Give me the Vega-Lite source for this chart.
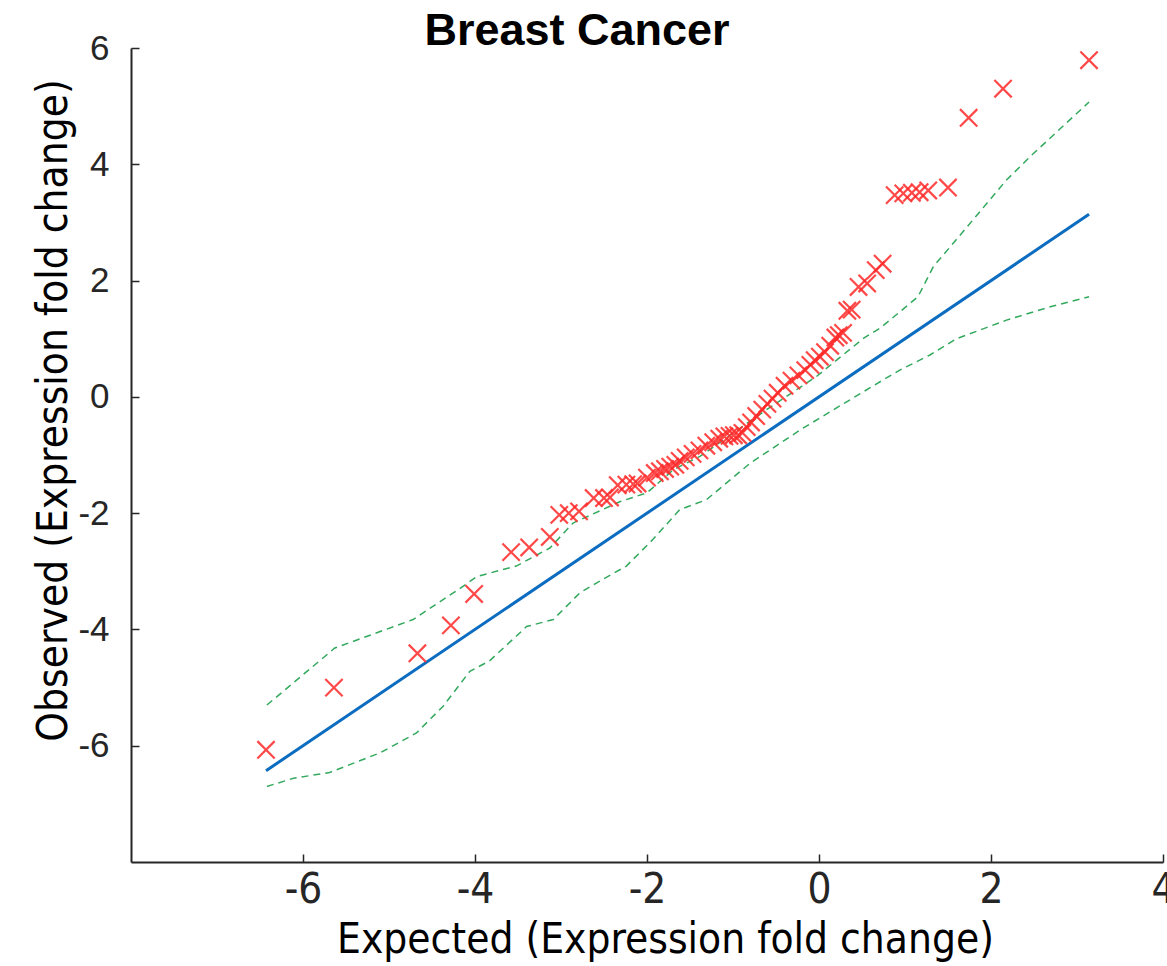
{
  "$schema": "https://vega.github.io/schema/vega-lite/v6.json",
  "width": 1032,
  "height": 814,
  "autosize": {"type": "none"},
  "padding": {"left": 131, "top": 48, "right": 4, "bottom": 104},
  "background": "white",
  "config": {"view": {"stroke": null}},
  "title": {"text": "Breast Cancer", "font": "Liberation Sans", "fontSize": 45, "fontWeight": "bold", "color": "#000000", "anchor": "middle", "dx": -70, "offset": 8, "dy": 31},
  "datasets": {
    "obs": [
      {"expected": -6.43, "observed": -6.07}, {"expected": -5.64, "observed": -5.0}, {"expected": -4.67, "observed": -4.41},
      {"expected": -4.28, "observed": -3.93}, {"expected": -4.01, "observed": -3.39}, {"expected": -3.58, "observed": -2.67},
      {"expected": -3.37, "observed": -2.59}, {"expected": -3.13, "observed": -2.41}, {"expected": -3.02, "observed": -2.03},
      {"expected": -2.91, "observed": -2.0}, {"expected": -2.79, "observed": -1.97}, {"expected": -2.62, "observed": -1.74},
      {"expected": -2.5, "observed": -1.74}, {"expected": -2.43, "observed": -1.73}, {"expected": -2.34, "observed": -1.52},
      {"expected": -2.24, "observed": -1.51}, {"expected": -2.16, "observed": -1.5}, {"expected": -2.11, "observed": -1.49},
      {"expected": -2.0, "observed": -1.39}, {"expected": -1.91, "observed": -1.31}, {"expected": -1.85, "observed": -1.28},
      {"expected": -1.79, "observed": -1.24}, {"expected": -1.73, "observed": -1.2}, {"expected": -1.67, "observed": -1.17},
      {"expected": -1.62, "observed": -1.1}, {"expected": -1.55, "observed": -1.04}, {"expected": -1.47, "observed": -0.98},
      {"expected": -1.39, "observed": -0.92}, {"expected": -1.31, "observed": -0.84}, {"expected": -1.23, "observed": -0.78},
      {"expected": -1.16, "observed": -0.72}, {"expected": -1.1, "observed": -0.68}, {"expected": -1.04, "observed": -0.67},
      {"expected": -0.99, "observed": -0.66}, {"expected": -0.94, "observed": -0.66}, {"expected": -0.89, "observed": -0.62},
      {"expected": -0.84, "observed": -0.52}, {"expected": -0.79, "observed": -0.44}, {"expected": -0.73, "observed": -0.33},
      {"expected": -0.66, "observed": -0.22}, {"expected": -0.6, "observed": -0.12}, {"expected": -0.54, "observed": -0.03},
      {"expected": -0.48, "observed": 0.07}, {"expected": -0.4, "observed": 0.19}, {"expected": -0.32, "observed": 0.28},
      {"expected": -0.24, "observed": 0.37}, {"expected": -0.16, "observed": 0.46}, {"expected": -0.1, "observed": 0.55},
      {"expected": -0.05, "observed": 0.63}, {"expected": 0.01, "observed": 0.69}, {"expected": 0.07, "observed": 0.77},
      {"expected": 0.13, "observed": 0.88}, {"expected": 0.19, "observed": 1.02}, {"expected": 0.23, "observed": 1.06},
      {"expected": 0.28, "observed": 1.1}, {"expected": 0.33, "observed": 1.48}, {"expected": 0.38, "observed": 1.5},
      {"expected": 0.46, "observed": 1.89}, {"expected": 0.56, "observed": 1.95}, {"expected": 0.66, "observed": 2.18},
      {"expected": 0.74, "observed": 2.29}, {"expected": 0.88, "observed": 3.47}, {"expected": 0.98, "observed": 3.5},
      {"expected": 1.08, "observed": 3.51}, {"expected": 1.17, "observed": 3.52}, {"expected": 1.27, "observed": 3.55},
      {"expected": 1.5, "observed": 3.6}, {"expected": 1.74, "observed": 4.8}, {"expected": 2.14, "observed": 5.3},
      {"expected": 3.14, "observed": 5.79}
    ],
    "ref": [
      {"expected": -6.43, "observed": -6.43}, {"expected": 3.14, "observed": 3.14}
    ],
    "bounds": [
      {"band": "upper", "expected": -6.42, "observed": -5.3}, {"band": "upper", "expected": -5.63, "observed": -4.32},
      {"band": "upper", "expected": -4.72, "observed": -3.83}, {"band": "upper", "expected": -4.14, "observed": -3.26},
      {"band": "upper", "expected": -3.98, "observed": -3.09}, {"band": "upper", "expected": -3.52, "observed": -2.91},
      {"band": "upper", "expected": -3.13, "observed": -2.6}, {"band": "upper", "expected": -2.86, "observed": -2.17},
      {"band": "upper", "expected": -2.31, "observed": -1.8}, {"band": "upper", "expected": -2.0, "observed": -1.65},
      {"band": "upper", "expected": -1.69, "observed": -1.25}, {"band": "upper", "expected": -1.38, "observed": -1.02},
      {"band": "upper", "expected": -0.61, "observed": -0.22}, {"band": "upper", "expected": -0.03, "observed": 0.35},
      {"band": "upper", "expected": 0.52, "observed": 1.01}, {"band": "upper", "expected": 0.71, "observed": 1.18},
      {"band": "upper", "expected": 1.15, "observed": 1.72}, {"band": "upper", "expected": 1.33, "observed": 2.24},
      {"band": "upper", "expected": 1.72, "observed": 2.92}, {"band": "upper", "expected": 2.18, "observed": 3.73},
      {"band": "upper", "expected": 2.49, "observed": 4.18}, {"band": "upper", "expected": 3.14, "observed": 5.07},
      {"band": "lower", "expected": -6.42, "observed": -6.7}, {"band": "lower", "expected": -6.11, "observed": -6.56},
      {"band": "lower", "expected": -5.69, "observed": -6.46}, {"band": "lower", "expected": -5.1, "observed": -6.12},
      {"band": "lower", "expected": -4.68, "observed": -5.78}, {"band": "lower", "expected": -4.37, "observed": -5.32},
      {"band": "lower", "expected": -4.06, "observed": -4.72}, {"band": "lower", "expected": -3.83, "observed": -4.54},
      {"band": "lower", "expected": -3.4, "observed": -3.95}, {"band": "lower", "expected": -3.09, "observed": -3.83},
      {"band": "lower", "expected": -2.78, "observed": -3.37}, {"band": "lower", "expected": -2.55, "observed": -3.17},
      {"band": "lower", "expected": -2.24, "observed": -2.91}, {"band": "lower", "expected": -1.93, "observed": -2.45},
      {"band": "lower", "expected": -1.62, "observed": -1.94}, {"band": "lower", "expected": -1.31, "observed": -1.77},
      {"band": "lower", "expected": -0.8, "observed": -1.14}, {"band": "lower", "expected": -0.22, "observed": -0.57},
      {"band": "lower", "expected": 0.17, "observed": -0.22}, {"band": "lower", "expected": 0.71, "observed": 0.26},
      {"band": "lower", "expected": 0.94, "observed": 0.46}, {"band": "lower", "expected": 1.29, "observed": 0.72},
      {"band": "lower", "expected": 1.6, "observed": 1.0}, {"band": "lower", "expected": 2.18, "observed": 1.32},
      {"band": "lower", "expected": 2.69, "observed": 1.55}, {"band": "lower", "expected": 3.14, "observed": 1.72}
    ]
  },
  "encoding": {
    "x": {
      "field": "expected", "type": "quantitative",
      "scale": {"domain": [-8, 4], "nice": false, "zero": false},
      "axis": {
        "title": "Expected (Expression fold change)", "values": [-6, -4, -2, 0, 2, 4],
        "labelExpr": "datum.value + ''",
        "grid": false, "domain": true, "domainColor": "#262626", "domainWidth": 2,
        "ticks": true, "tickSize": -8, "tickColor": "#262626", "tickWidth": 1.5,
        "labelFont": "DejaVu Sans Condensed, Liberation Sans Narrow, Liberation Sans", "labelFontSize": 42, "labelColor": "#262626",
        "labelPadding": 15, "labelFlush": false,
        "titleFont": "DejaVu Sans Condensed, Liberation Sans Narrow, Liberation Sans", "titleFontSize": 42, "titleFontWeight": "normal", "titleColor": "#000000",
        "titlePadding": 9, "titleX": 534, "titleAnchor": "middle"
      }
    },
    "y": {
      "field": "observed", "type": "quantitative",
      "scale": {"domain": [-8, 6], "nice": false, "zero": false},
      "axis": {
        "title": "Observed (Expression fold change)", "values": [-6, -4, -2, 0, 2, 4, 6],
        "labelExpr": "datum.value + ''",
        "grid": false, "domain": true, "domainColor": "#262626", "domainWidth": 2,
        "ticks": true, "tickSize": -8, "tickColor": "#262626", "tickWidth": 1.5,
        "labelFont": "Liberation Sans", "labelFontSize": 35, "labelColor": "#262626",
        "labelPadding": 30, "labelFlush": false,
        "titleFont": "DejaVu Sans Condensed, Liberation Sans Narrow, Liberation Sans", "titleFontSize": 42, "titleFontWeight": "normal", "titleColor": "#000000",
        "titlePadding": 2, "titleY": 362, "titleAnchor": "middle"
      }
    }
  },
  "layer": [
    {
      "data": {"name": "bounds"},
      "mark": {"type": "line", "color": "#33a95e", "strokeWidth": 1.5, "strokeDash": [7, 5]},
      "encoding": {"detail": {"field": "band", "type": "nominal"}}
    },
    {
      "data": {"name": "ref"},
      "mark": {"type": "line", "color": "#0b6cc0", "strokeWidth": 3},
      "encoding": {}
    },
    {
      "data": {"name": "obs"},
      "mark": {"type": "point", "shape": "M-1,-1L1,1M-1,1L1,-1", "size": 300, "filled": false, "color": "#ff2a2a", "strokeWidth": 2.2, "opacity": 0.85},
      "encoding": {}
    }
  ]
}
